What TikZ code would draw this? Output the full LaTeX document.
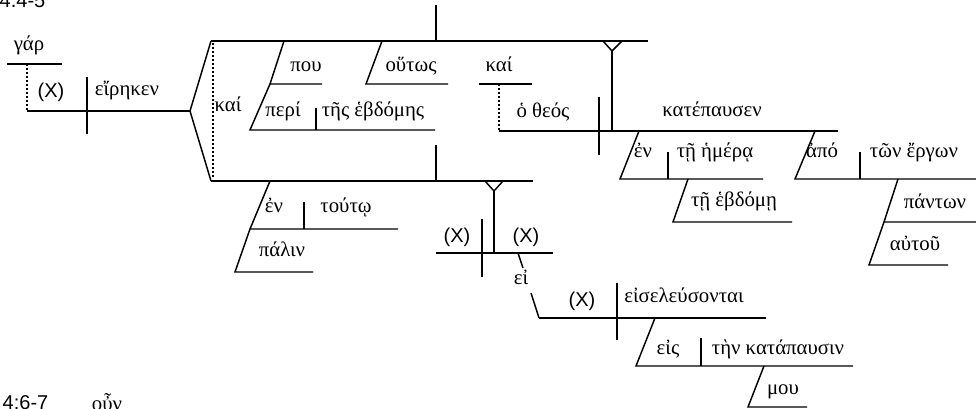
\documentclass[tikz,border=0pt]{standalone}
\usepackage{fontspec}
\setmainfont{Liberation Serif}
\newfontfamily\sansfnt{Liberation Sans}
\usepackage{tikz}

\tikzset{
  grk/.style={font=\fontsize{15.6}{19}\selectfont, inner sep=0pt, anchor=base},
  lbl/.style={font=\sansfnt\fontsize{15}{18}\selectfont, inner sep=0pt, anchor=base},
  dotline/.style={dash pattern=on 1.5pt off 1.5pt, line width=1.6pt}
}

\begin{document}
\begin{tikzpicture}[x=0.75pt,y=0.75pt,yscale=-1,xscale=1,line width=1.1pt]
\useasboundingbox (0,0) rectangle (976,409);
% Text Node
\draw (-1,8) node [lbl, anchor=base west] (ref1) {4.4-5};
% Text Node
\draw (2,410) node [lbl, anchor=base west] (ref2) {4:6-7};
% Text Node
\draw (107,411) node [grk] (oun) {οὖν};

%Straight Lines -- gar and eirhken
\draw    (7,64) -- (62,64) ;
\draw [dotline]   (27,64) -- (27,111) ;
\draw    (27,111) -- (190,111) ;
\draw    (87,77) -- (87,134) ;
%Straight Lines -- kai fork
\draw    (211,41) -- (190,111) -- (211,181) ;
\draw [dotline]   (213,43) -- (213,179) ;

%Straight Lines -- upper clause
\draw    (211,41) -- (648,41) ;
\draw    (436,5) -- (436,41) ;
\draw    (284,41) -- (270,84) -- (322,84) ;
\draw    (270,84) -- (250,130) -- (435,130) ;
\draw    (316,108) -- (316,130) ;
\draw    (382,41) -- (366,84) -- (448,84) ;
\draw    (603,41) -- (612,51) -- (622,41) ;
\draw    (612,51) -- (612,131) ;
\draw    (479,84) -- (532,84) ;
\draw [dotline]   (499,84) -- (499,131) ;
\draw    (499,131) -- (838,131) ;
\draw    (599,97) -- (599,155) ;
\draw    (639,131) -- (620,179) -- (763,179) ;
\draw    (668,152) -- (668,179) ;
\draw    (688,179) -- (673,222) -- (792,222) ;
\draw    (815,131) -- (795,179) -- (976,179) ;
\draw    (860,152) -- (860,179) ;
\draw    (898,179) -- (884,222) -- (976,222) ;
\draw    (884,222) -- (869,265) -- (948,265) ;

%Straight Lines -- lower clause
\draw    (211,181) -- (533,181) ;
\draw    (436,145) -- (436,181) ;
\draw    (270,181) -- (250,229) -- (398,229) ;
\draw    (304,202) -- (304,229) ;
\draw    (250,229) -- (235,272) -- (313,272) ;
\draw    (485,181) -- (494,191) -- (503,181) ;
\draw    (494,191) -- (494,253) ;
\draw    (436,253) -- (553,253) ;
\draw    (482,219) -- (482,277) ;
\draw    (518,253) -- (523,268) ;
\draw    (531,293) -- (539,318) ;
\draw    (539,318) -- (766,318) ;
\draw    (617,283) -- (617,340) ;
\draw    (655,318) -- (636,366) -- (853,366) ;
\draw    (701,338) -- (701,366) ;
\draw    (764,366) -- (748,407) -- (807,407) ;

% Text Node
\draw (29,51) node [grk] (gar) {γάρ};
\draw (51,98) node [lbl] (subjA) {(X)};
\draw (127,96) node [grk] (eirhken) {εἴρηκεν};
\draw (228,112) node [grk] (kaiA) {καί};
\draw (306,72) node [grk] (pou) {που};
\draw (411,72) node [grk] (houtws) {οὕτως};
\draw (283,117) node [grk] (peri) {περί};
\draw (373,117) node [grk] (hebdomhs) {τῆς ἑβδόμης};
\draw (499,72) node [grk] (kaiB) {καί};
\draw (543,118) node [grk] (theos) {ὁ θεός};
\draw (712,117) node [grk] (katepausen) {κατέπαυσεν};
\draw (643,158) node [grk] (enA) {ἐν};
\draw (715,158) node [grk] (hmera) {τῇ ἡμέρᾳ};
\draw (734,207) node [grk] (hebdomh) {τῇ ἑβδόμῃ};
\draw (822,158) node [grk] (apo) {ἀπό};
\draw (914,158) node [grk] (ergwn) {τῶν ἔργων};
\draw (935,209) node [grk] (pantwn) {πάντων};
\draw (915,251) node [grk] (autou) {αὐτοῦ};
\draw (274,213) node [grk] (enB) {ἐν};
\draw (346,213) node [grk] (toutw) {τούτῳ};
\draw (282,257) node [grk] (palin) {πάλιν};
\draw (457,243) node [lbl] (subjB) {(X)};
\draw (526,243) node [lbl] (subjC) {(X)};
\draw (521,285) node [grk] (ei) {εἰ};
\draw (582,307) node [lbl] (subjD) {(X)};
\draw (684,303) node [grk] (eiseleusontai) {εἰσελεύσονται};
\draw (668,355) node [grk] (eis) {εἰς};
\draw (778,355) node [grk] (katapausin) {τὴν κατάπαυσιν};
\draw (783,395) node [grk] (mou) {μου};
\end{tikzpicture}
\end{document}
